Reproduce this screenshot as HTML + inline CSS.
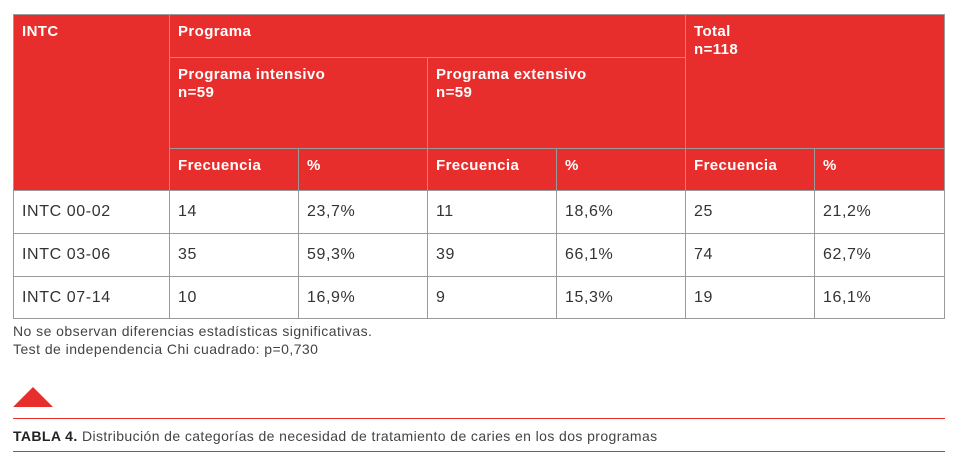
<!DOCTYPE html>
<html><head><style>
body{margin:0;width:955px;height:466px;background:#fff;font-family:"Liberation Sans",sans-serif;position:relative;overflow:hidden}
.c{position:absolute;box-sizing:border-box;border:1px solid #9a9a9a;font-size:15px;padding:8px 8px 0 8px;line-height:18px;white-space:nowrap}
.h{background:#e82e2d;color:#fff;font-weight:bold;letter-spacing:0.4px}
.d{color:#333;padding-top:12px;font-size:16px;letter-spacing:0.6px}
</style></head><body>
<div class="c h" style="left:13px;top:14px;width:157px;height:177px">INTC</div>
<div class="c h" style="left:169px;top:14px;width:517px;height:44px">Programa</div>
<div class="c h" style="left:685px;top:14px;width:260px;height:135px">Total<br>n=118</div>
<div class="c h" style="left:169px;top:57px;width:259px;height:92px">Programa intensivo<br>n=59</div>
<div class="c h" style="left:427px;top:57px;width:259px;height:92px">Programa extensivo<br>n=59</div>
<div class="c h" style="left:169px;top:148px;width:130px;height:43px">Frecuencia</div>
<div class="c h" style="left:298px;top:148px;width:130px;height:43px">%</div>
<div class="c h" style="left:427px;top:148px;width:130px;height:43px">Frecuencia</div>
<div class="c h" style="left:556px;top:148px;width:130px;height:43px">%</div>
<div class="c h" style="left:685px;top:148px;width:130px;height:43px">Frecuencia</div>
<div class="c h" style="left:814px;top:148px;width:131px;height:43px">%</div>

<div class="c d" style="left:13px;top:190px;width:157px;height:44px">INTC 00-02</div>
<div class="c d" style="left:169px;top:190px;width:130px;height:44px">14</div>
<div class="c d" style="left:298px;top:190px;width:130px;height:44px">23,7%</div>
<div class="c d" style="left:427px;top:190px;width:130px;height:44px">11</div>
<div class="c d" style="left:556px;top:190px;width:130px;height:44px">18,6%</div>
<div class="c d" style="left:685px;top:190px;width:130px;height:44px">25</div>
<div class="c d" style="left:814px;top:190px;width:131px;height:44px">21,2%</div>

<div class="c d" style="left:13px;top:233px;width:157px;height:44px">INTC 03-06</div>
<div class="c d" style="left:169px;top:233px;width:130px;height:44px">35</div>
<div class="c d" style="left:298px;top:233px;width:130px;height:44px">59,3%</div>
<div class="c d" style="left:427px;top:233px;width:130px;height:44px">39</div>
<div class="c d" style="left:556px;top:233px;width:130px;height:44px">66,1%</div>
<div class="c d" style="left:685px;top:233px;width:130px;height:44px">74</div>
<div class="c d" style="left:814px;top:233px;width:131px;height:44px">62,7%</div>

<div class="c d" style="left:13px;top:276px;width:157px;height:43px">INTC 07-14</div>
<div class="c d" style="left:169px;top:276px;width:130px;height:43px">10</div>
<div class="c d" style="left:298px;top:276px;width:130px;height:43px">16,9%</div>
<div class="c d" style="left:427px;top:276px;width:130px;height:43px">9</div>
<div class="c d" style="left:556px;top:276px;width:130px;height:43px">15,3%</div>
<div class="c d" style="left:685px;top:276px;width:130px;height:43px">19</div>
<div class="c d" style="left:814px;top:276px;width:131px;height:43px">16,1%</div>

<div style="position:absolute;left:13px;top:322px;font-size:14px;letter-spacing:0.45px;line-height:18px;color:#444;white-space:nowrap">No se observan diferencias estadísticas significativas.<br>Test de independencia Chi cuadrado: p=0,730</div>
<div style="position:absolute;left:13px;top:387px;width:0;height:0;border-left:20px solid transparent;border-right:20px solid transparent;border-bottom:20px solid #e82e2d"></div>
<div style="position:absolute;left:13px;top:418px;width:932px;height:1px;background:#e82e2d"></div>
<div style="position:absolute;left:13px;top:427px;font-size:14px;letter-spacing:0.4px;line-height:18px;color:#444;white-space:nowrap"><b style="color:#222">TABLA 4.</b> Distribución de categorías de necesidad de tratamiento de caries en los dos programas</div>
<div style="position:absolute;left:13px;top:451px;width:932px;height:1px;background:#e82e2d"></div>
</body></html>
